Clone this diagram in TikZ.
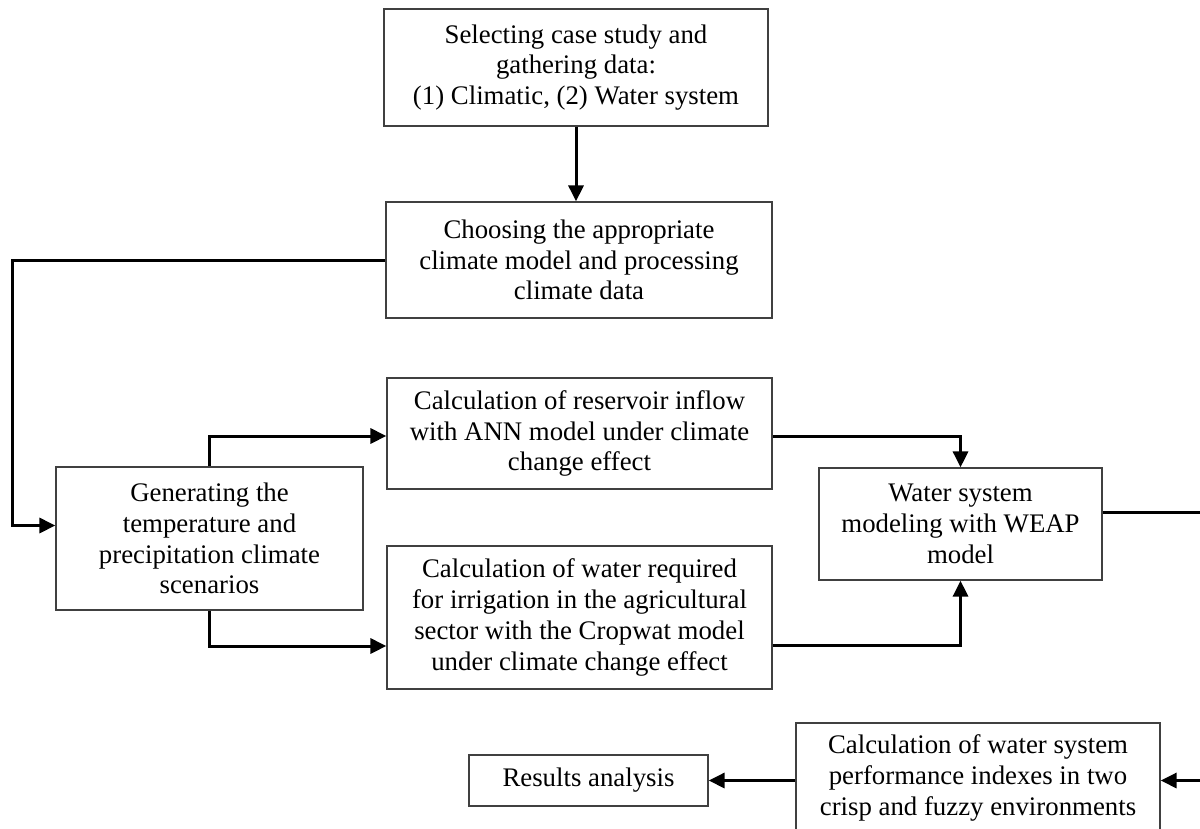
\documentclass[tikz,border=0pt]{standalone}
\usepackage{fontspec}
\setmainfont{Liberation Serif}
\usetikzlibrary{arrows.meta,calc}
\begin{document}
\begin{tikzpicture}[x=0.5pt,y=-0.5pt,
  box/.style={draw=black!75,line width=0.6pt,fill=white,align=center,inner sep=0pt,
    font=\fontsize{13.4pt}{15.4pt}\selectfont},
  arr/.style={line width=1.5pt,-{Triangle[length=8pt,width=7.5pt]}}]
\clip (0,0) rectangle (1200,829);
\node[box,minimum width=192pt,minimum height=58.5pt] (b1) at (576,67.5)
  {Selecting case study and\\gathering data:\\(1) Climatic, (2) Water system};
\node[box,minimum width=193pt,minimum height=58pt] (b2) at (579,260)
  {Choosing the appropriate\\climate model and processing\\climate data};
\node[box,minimum width=192.5pt,minimum height=55.5pt] (ann) at (579.5,433.5)
  {Calculation of reservoir inflow\\with ANN model under climate\\change effect};
\node[box,minimum width=153.5pt,minimum height=71.5pt] (gen) at (209.5,538.5)
  {Generating the\\temperature and\\precipitation climate\\scenarios};
\node[box,minimum width=192.5pt,minimum height=71.5pt] (crop) at (579.5,617.5)
  {Calculation of water required\\for irrigation in the agricultural\\sector with the Cropwat model\\under climate change effect};
\node[box,minimum width=141.5pt,minimum height=56pt] (weap) at (960.5,524)
  {Water system\\modeling with WEAP\\model};
\node[box,minimum width=182pt,minimum height=55pt] (bot) at (978,778)
  {Calculation of water system\\performance indexes in two\\crisp and fuzzy environments};
\node[box,minimum width=119.5pt,minimum height=25.5pt] (res) at (588.5,780.5)
  {Results analysis};
\coordinate (L) at (12,0);
\coordinate (R) at (1215,0);
\draw[arr] (b1.south) -- (b1.south |- b2.north);
\draw[arr] (b2.west) -- (b2.west -| L) |- ([yshift=6.5pt]gen.west);
\draw[arr] (gen.north) |- ([yshift=-1.25pt]ann.west);
\draw[arr] (gen.south) |- ([yshift=-14.25pt]crop.west);
\draw[arr] ([yshift=-1.25pt]ann.east) -| (weap.north);
\draw[arr] ([yshift=-13.75pt]crop.east) -| (weap.south);
\draw[arr] ([yshift=6pt]weap.east) -| (res.east -| R) -- (res.east -| bot.east);
\draw[arr] (res.east -| bot.west) -- (res.east);
\end{tikzpicture}
\end{document}
